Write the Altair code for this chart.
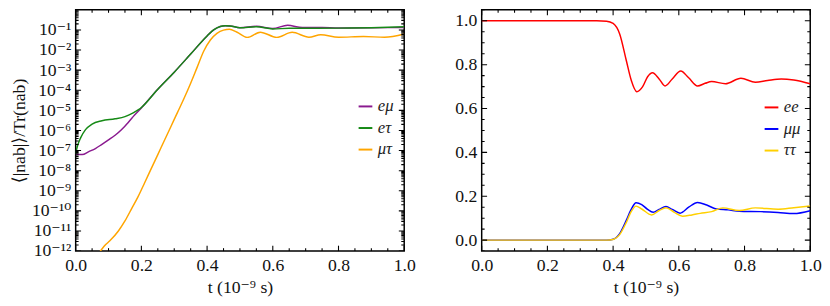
import altair as alt
import pandas as pd

# ---------------- data ----------------
# left panel: log10 of <|n_ab|>/Tr(n_ab)
t_emu = [0.0, 0.02, 0.04, 0.06, 0.08, 0.10, 0.12, 0.14, 0.16, 0.18, 0.20, 0.25, 0.30, 0.35, 0.40,
         0.42, 0.44, 0.455, 0.47, 0.50, 0.55, 0.60, 0.645, 0.69, 0.75, 0.80, 0.90, 1.0]
lg_emu = [-7.18, -7.2, -7.05, -6.9, -6.69, -6.47, -6.24, -5.95, -5.6, -5.22, -4.88, -3.95, -3.1, -2.2, -1.3,
          -1.0, -0.83, -0.79, -0.8, -0.89, -0.82, -0.93, -0.77, -0.88, -0.88, -0.9, -0.89, -0.88]

t_etau = [0.0, 0.005, 0.015, 0.03, 0.05, 0.08, 0.12, 0.15, 0.175, 0.19, 0.20, 0.25, 0.30, 0.35, 0.40,
          0.42, 0.44, 0.455, 0.47, 0.50, 0.55, 0.60, 0.65, 0.70, 0.80, 0.90, 1.0]
lg_etau = [-7.15, -6.8, -6.37, -5.96, -5.68, -5.52, -5.42, -5.31, -5.13, -4.98, -4.86, -3.95, -3.1, -2.2, -1.3,
           -1.0, -0.83, -0.79, -0.8, -0.89, -0.84, -0.95, -0.92, -0.92, -0.91, -0.89, -0.84]

t_mutau = [0.06, 0.075, 0.09, 0.104, 0.13, 0.15, 0.17, 0.19, 0.21, 0.23, 0.25, 0.27, 0.29, 0.31, 0.33,
           0.35, 0.37, 0.39, 0.41, 0.43, 0.45, 0.468, 0.49, 0.522, 0.562, 0.612, 0.659, 0.71, 0.746,
           0.80, 0.876, 0.94, 1.0]
lg_mutau = [-12.3, -12.0, -11.7, -11.49, -11.0, -10.5, -9.9, -9.29, -8.6, -7.9, -7.2, -6.5, -5.8, -5.1, -4.4,
            -3.65, -2.85, -2.05, -1.5, -1.17, -1.01, -0.97, -1.1, -1.37, -1.11, -1.37, -1.12, -1.36, -1.24,
            -1.36, -1.33, -1.36, -1.2]

# right panel: diagonal populations
t_ee = [0.0, 0.35, 0.38, 0.40, 0.42, 0.44, 0.455, 0.472, 0.49, 0.505, 0.52, 0.54, 0.558, 0.58, 0.606,
        0.63, 0.657, 0.68, 0.70, 0.742, 0.789, 0.833, 0.87, 0.912, 0.95, 1.0]
v_ee = [1.0, 1.0, 0.998, 0.988, 0.94, 0.82, 0.73, 0.677, 0.70, 0.745, 0.763, 0.735, 0.703, 0.735, 0.771,
        0.74, 0.703, 0.715, 0.723, 0.713, 0.738, 0.72, 0.728, 0.735, 0.73, 0.713]

t_mumu = [0.0, 0.38, 0.40, 0.42, 0.44, 0.455, 0.47, 0.487, 0.505, 0.522, 0.54, 0.561, 0.58, 0.604,
          0.63, 0.657, 0.685, 0.714, 0.75, 0.784, 0.85, 0.902, 0.95, 1.0]
v_mumu = [0.0, 0.0, 0.004, 0.03, 0.09, 0.14, 0.17, 0.162, 0.14, 0.127, 0.14, 0.153, 0.14, 0.123,
          0.15, 0.172, 0.16, 0.142, 0.138, 0.132, 0.13, 0.126, 0.121, 0.134]

t_tautau = [0.0, 0.38, 0.40, 0.42, 0.44, 0.455, 0.47, 0.487, 0.517, 0.54, 0.561, 0.585, 0.611, 0.64,
            0.665, 0.70, 0.734, 0.784, 0.833, 0.902, 0.95, 1.0]
v_tautau = [0.0, 0.0, 0.003, 0.025, 0.08, 0.13, 0.155, 0.142, 0.115, 0.135, 0.148, 0.128, 0.109, 0.115,
            0.122, 0.13, 0.147, 0.135, 0.147, 0.141, 0.148, 0.156]

names_left = ["eμ", "eτ", "μτ"]
colors_left = ["#8a1a8f", "#168a16", "#ffa500"]
names_right = ["ee", "μμ", "ττ"]
colors_right = ["#ff0000", "#0000ff", "#ffd000"]

x_major = [0.0, 0.2, 0.4, 0.6, 0.8, 1.0]
x_minor = [0.05, 0.1, 0.15, 0.25, 0.3, 0.35, 0.45, 0.5, 0.55, 0.65, 0.7, 0.75, 0.85, 0.9, 0.95]
ylog_exp = list(range(-12, 0))
yr_major = [0.0, 0.2, 0.4, 0.6, 0.8, 1.0]
yr_minor = [-0.05, 0.05, 0.1, 0.15, 0.25, 0.3, 0.35, 0.45, 0.5, 0.55, 0.65, 0.7, 0.75, 0.85, 0.9, 0.95, 1.05]

x_title = "t (10⁻⁹ s)"
y_title_left = "⟨|nab|⟩/Tr(nab)"

# ---------------- build ----------------
FONT = "Liberation Serif, Times New Roman, DejaVu Serif, serif"
W, H = 335, 246
MAJ, MIN = 5.5, 3.0


def long_df(series):
    rows = []
    for name, ts, vs in series:
        for i, (a, b) in enumerate(zip(ts, vs)):
            rows.append({"s": name, "t": a, "v": b, "o": i})
    return pd.DataFrame(rows)


df_left = long_df([
    (names_left[0], t_emu, [10 ** e for e in lg_emu]),
    (names_left[1], t_etau, [10 ** e for e in lg_etau]),
    (names_left[2], t_mutau, [10 ** e for e in lg_mutau]),
])
df_right = long_df([
    (names_right[0], t_ee, v_ee),
    (names_right[1], t_mumu, v_mumu),
    (names_right[2], t_tautau, v_tautau),
])

xscale = alt.Scale(domain=[0, 1], nice=False, zero=False)
yscale_left = alt.Scale(type="log", domain=[1e-12, 1], nice=False)
yscale_right = alt.Scale(domain=[-0.05, 1.05], nice=False, zero=False)

sup = "['⁰','¹','²','³','⁴','⁵','⁶','⁷','⁸','⁹','¹⁰','¹¹','¹²']"
log_label_expr = "'10⁻' + " + sup + "[-round(log(datum.value)/LN10)]"

common = dict(ticks=False, domain=False, grid=False, labelFlush=False, labelOverlap=False,
              labelFont=FONT, labelFontSize=18, labelColor="#111",
              titleFont=FONT, titleFontSize=18, titleFontWeight="normal", titleColor="#111")

x_axis = alt.Axis(values=x_major, format=".1f", labelPadding=6, title=x_title, titlePadding=4, **common)

y_log_major = [10.0 ** e for e in ylog_exp]
y_log_minor = [k * 10.0 ** e for e in range(-12, 0) for k in range(2, 10)]

y_axis_left = alt.Axis(values=y_log_major, labelExpr=log_label_expr, labelPadding=5,
                       title=y_title_left, titlePadding=3, **common)
y_axis_right = alt.Axis(values=yr_major, format=".1f", labelPadding=5, title=None, **common)


def tick_layers(yscale, y_axis, y_major, y_minor):
    layers = []
    for vals, L in [(x_major, MAJ), (x_minor, MIN)]:
        d = pd.DataFrame({"t": vals})
        base = alt.Chart(d).mark_rule(color="black", strokeWidth=1.1)
        xx = alt.X("t:Q", scale=xscale, axis=x_axis)
        layers.append(base.encode(x=xx, y=alt.value(H), y2=alt.value(H - L)))
        layers.append(base.encode(x=xx, y=alt.value(0), y2=alt.value(L)))
    for vals, L in [(y_major, MAJ), (y_minor, MIN)]:
        d = pd.DataFrame({"v": vals})
        base = alt.Chart(d).mark_rule(color="black", strokeWidth=1.1, clip=True)
        yy = alt.Y("v:Q", scale=yscale, axis=y_axis)
        layers.append(base.encode(y=yy, x=alt.value(0), x2=alt.value(L)))
        layers.append(base.encode(y=yy, x=alt.value(W), x2=alt.value(W - L)))
    return layers


def legend(lx, ly):
    return alt.Legend(title=None, orient="none", legendX=lx, legendY=ly, padding=0,
                      symbolType="stroke", symbolSize=196, symbolStrokeWidth=2,
                      labelFont=FONT, labelFontStyle="italic", labelFontSize=17,
                      labelColor="#222", labelOffset=4, rowPadding=4)


left_lines = alt.Chart(df_left).mark_line(strokeWidth=1.5, clip=True, interpolate="monotone").encode(
    x=alt.X("t:Q", scale=xscale, axis=x_axis),
    y=alt.Y("v:Q", scale=yscale_left, axis=y_axis_left),
    color=alt.Color("s:N", scale=alt.Scale(domain=names_left, range=colors_left),
                    sort=names_left, legend=legend(287, 90)),
    order="o:Q",
)
left = alt.layer(left_lines, *tick_layers(yscale_left, y_axis_left, y_log_major, y_log_minor)).properties(
    width=W, height=H)

right_lines = alt.Chart(df_right).mark_line(strokeWidth=1.5, clip=True, interpolate="monotone").encode(
    x=alt.X("t:Q", scale=xscale, axis=x_axis),
    y=alt.Y("v:Q", scale=yscale_right, axis=y_axis_right),
    color=alt.Color("s:N", scale=alt.Scale(domain=names_right, range=colors_right),
                    sort=names_right, legend=legend(287, 91)),
    order="o:Q",
)
right = alt.layer(right_lines, *tick_layers(yscale_right, y_axis_right, yr_major, yr_minor)).properties(
    width=W, height=H)

chart = alt.hconcat(left, right, spacing=38).resolve_scale(color="independent").properties(
    padding={"left": 2, "top": -3, "right": 0, "bottom": 0}
).configure_view(stroke="black", strokeWidth=1.5)

chart.save("out.html", embed_options={"renderer": "svg", "actions": False})
